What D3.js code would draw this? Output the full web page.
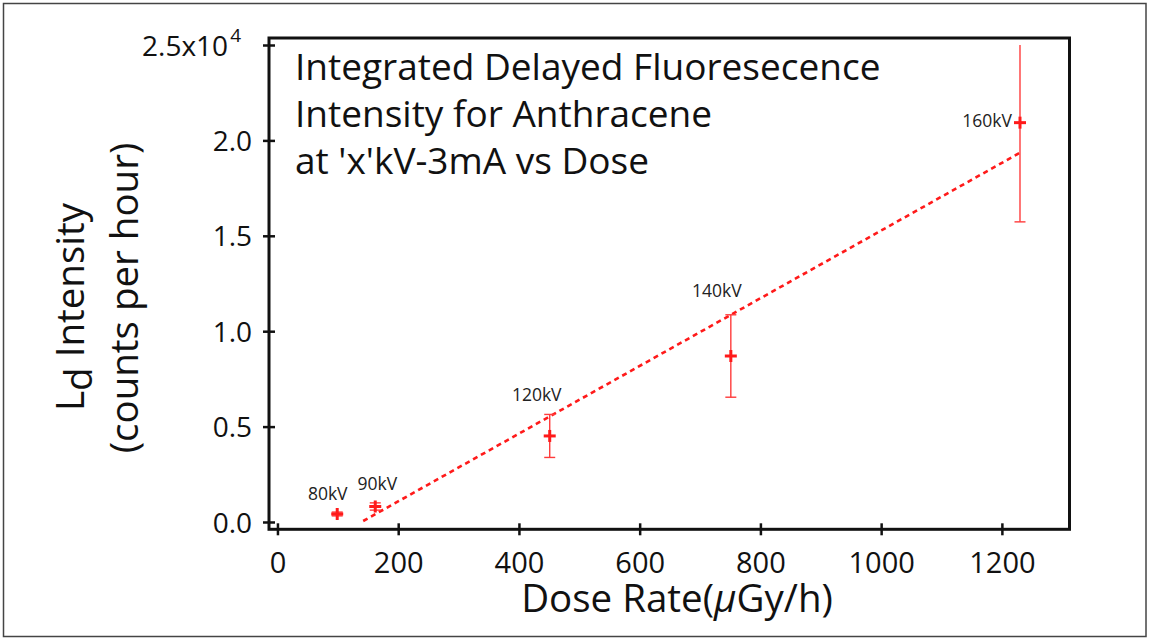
<!DOCTYPE html>
<html><head><meta charset="utf-8">
<script src="https://cdn.jsdelivr.net/npm/d3@7"></script>
<style>
html,body{margin:0;padding:0;background:#fff;}
svg{display:block;}
</style></head>
<body><div id="chart"></div>
<script>
// ---- data ----
const labels   = ["80kV", "90kV", "120kV", "140kV", "160kV"];
const doseRate = [99, 162, 451, 751, 1230];
const intensity= [420, 812, 4510, 8700, 20930];
const errors   = [100, 190, 1127, 2160, 5200];
const fitX     = [142, 1230];
const fitY     = [52, 19355];
const xTicks   = [0, 200, 400, 600, 800, 1000, 1200];
const yTicks   = [0, 5000, 10000, 15000, 20000, 25000];
const yTickLabels = ["0.0", "0.5", "1.0", "1.5", "2.0", "2.5x10"];
const titleLines = ["Integrated Delayed Fluoresecence", "Intensity for Anthracene", "at 'x'kV-3mA vs Dose"];
const yMaxClip = 25000;

const W = 1149, H = 639;
const FONT = "'Open Sans', 'DejaVu Sans', sans-serif";
const RED = "#ff1a1a";
const ERR = "#ff3b3b";

const svg = d3.select("#chart").append("svg").attr("width", W).attr("height", H);
svg.append("rect").attr("width", W).attr("height", H).attr("fill", "#fff");
svg.append("rect").attr("x", 3.5).attr("y", 3.5).attr("width", 1142.5).attr("height", 633)
  .attr("fill", "none").attr("stroke", "#444").attr("stroke-width", 1.5);

const plot = {left: 269, right: 1069.5, top: 38, bottom: 529.3};
const x = d3.scaleLinear().domain([-14, 1312]).range([plot.left, plot.right]);
const y = d3.scaleLinear().domain([-383, 25367]).range([plot.bottom, plot.top]);

// frame
svg.append("rect").attr("x", plot.left).attr("y", plot.top)
  .attr("width", plot.right - plot.left).attr("height", plot.bottom - plot.top)
  .attr("fill", "none").attr("stroke", "#111").attr("stroke-width", 3);

// x axis
const xAxis = svg.append("g").attr("transform", `translate(0,${plot.bottom})`)
  .call(d3.axisBottom(x).tickValues(xTicks).tickFormat(d3.format("d")).tickSize(6).tickPadding(0));
xAxis.select(".domain").remove();
xAxis.selectAll(".tick line").attr("y1", -6).attr("y2", 6).attr("stroke", "#111").attr("stroke-width", 2.5);
xAxis.selectAll(".tick text").attr("y", 43.5).attr("dy", 0)
  .attr("font-family", FONT).attr("font-size", 29).attr("fill", "#111");

// y axis
const yAxis = svg.append("g").attr("transform", `translate(${plot.left},0)`)
  .call(d3.axisLeft(y).tickValues(yTicks).tickFormat((d, i) => yTickLabels[i]).tickSize(6).tickPadding(0));
yAxis.select(".domain").remove();
yAxis.selectAll(".tick line").attr("x1", -6).attr("x2", 6).attr("stroke", "#111").attr("stroke-width", 2.5);
yAxis.selectAll(".tick text").attr("x", -17).attr("dy", "0.36em")
  .attr("font-family", FONT).attr("font-size", 28).attr("fill", "#111");
yAxis.selectAll(".tick text").filter(d => d === 25000)
  .attr("x", -28)
  .append("tspan").attr("font-size", 19).attr("dy", "-0.7em").attr("dx", 2).text("4");

// fit line
svg.append("path")
  .datum(fitX.map((d, i) => [d, fitY[i]]))
  .attr("d", d3.line().x(d => x(d[0])).y(d => y(d[1])))
  .attr("fill", "none").attr("stroke", RED).attr("stroke-width", 2.6)
  .attr("stroke-dasharray", "5,4");

// error bars and markers
const pts = doseRate.map((d, i) => ({x: d, y: intensity[i], e: errors[i], label: labels[i]}));
const g = svg.append("g");
pts.forEach(p => {
  const cx = x(p.x), cy = y(p.y);
  const clipped = p.y + p.e > yMaxClip;
  const t = y(Math.min(p.y + p.e, yMaxClip)), b = y(p.y - p.e);
  g.append("line").attr("x1", cx).attr("x2", cx).attr("y1", t).attr("y2", b)
    .attr("stroke", ERR).attr("stroke-width", 1.4);
  (clipped ? [b] : [t, b]).forEach(yy => g.append("line").attr("x1", cx - 5.5).attr("x2", cx + 5.5)
    .attr("y1", yy).attr("y2", yy).attr("stroke", ERR).attr("stroke-width", 1.4));
  g.append("line").attr("x1", cx - 6).attr("x2", cx + 6).attr("y1", cy).attr("y2", cy)
    .attr("stroke", RED).attr("stroke-width", 3);
  g.append("line").attr("x1", cx).attr("x2", cx).attr("y1", cy - 6).attr("y2", cy + 6)
    .attr("stroke", RED).attr("stroke-width", 3);
});

// point labels (pixel offsets relative to each point / its error bar top)
const labelStyle = [
  {dx: -9.5, dy: -14, anchor: "middle", ref: "point"},
  {dx: 2, dy: -12.5, anchor: "middle", ref: "top"},
  {dx: -13, dy: -13.5, anchor: "middle", ref: "top"},
  {dx: -14, dy: -18, anchor: "middle", ref: "top"},
  {dx: -8, dy: 4, anchor: "end", ref: "point"}
];
pts.forEach((p, i) => {
  const s = labelStyle[i];
  const cx = x(p.x);
  const base = s.ref === "top" ? y(p.y + p.e) : y(p.y);
  svg.append("text").attr("x", cx + s.dx).attr("y", base + s.dy)
    .attr("text-anchor", s.anchor).attr("font-family", FONT).attr("font-size", 17.5)
    .attr("fill", "#222").text(p.label);
});

// title block
const title = svg.append("text").attr("font-family", FONT).attr("font-size", 37).attr("fill", "#111");
titleLines.forEach((l, i) => {
  title.append("tspan").attr("x", 295).attr("y", 80 + i * 47).text(l);
});

// x axis title
const xt = svg.append("text").attr("x", 677).attr("y", 612).attr("text-anchor", "middle")
  .attr("font-family", FONT).attr("font-size", 38.5).attr("fill", "#111");
xt.append("tspan").text("Dose Rate(");
xt.append("tspan").attr("font-style", "italic").text("μ");
xt.append("tspan").text("Gy/h)");

// y axis title
const yt = svg.append("text").attr("transform", "translate(84,307) rotate(-90)")
  .attr("text-anchor", "middle").attr("font-family", FONT).attr("font-size", 38.5).attr("fill", "#111");
yt.append("tspan").text("L");
yt.append("tspan").attr("dy", 8).text("d");
yt.append("tspan").attr("dy", -8).text(" Intensity");
svg.append("text").attr("transform", "translate(138,298) rotate(-90)")
  .attr("text-anchor", "middle").attr("font-family", FONT).attr("font-size", 38.5).attr("fill", "#111")
  .text("(counts per hour)");
</script>
</body></html>
